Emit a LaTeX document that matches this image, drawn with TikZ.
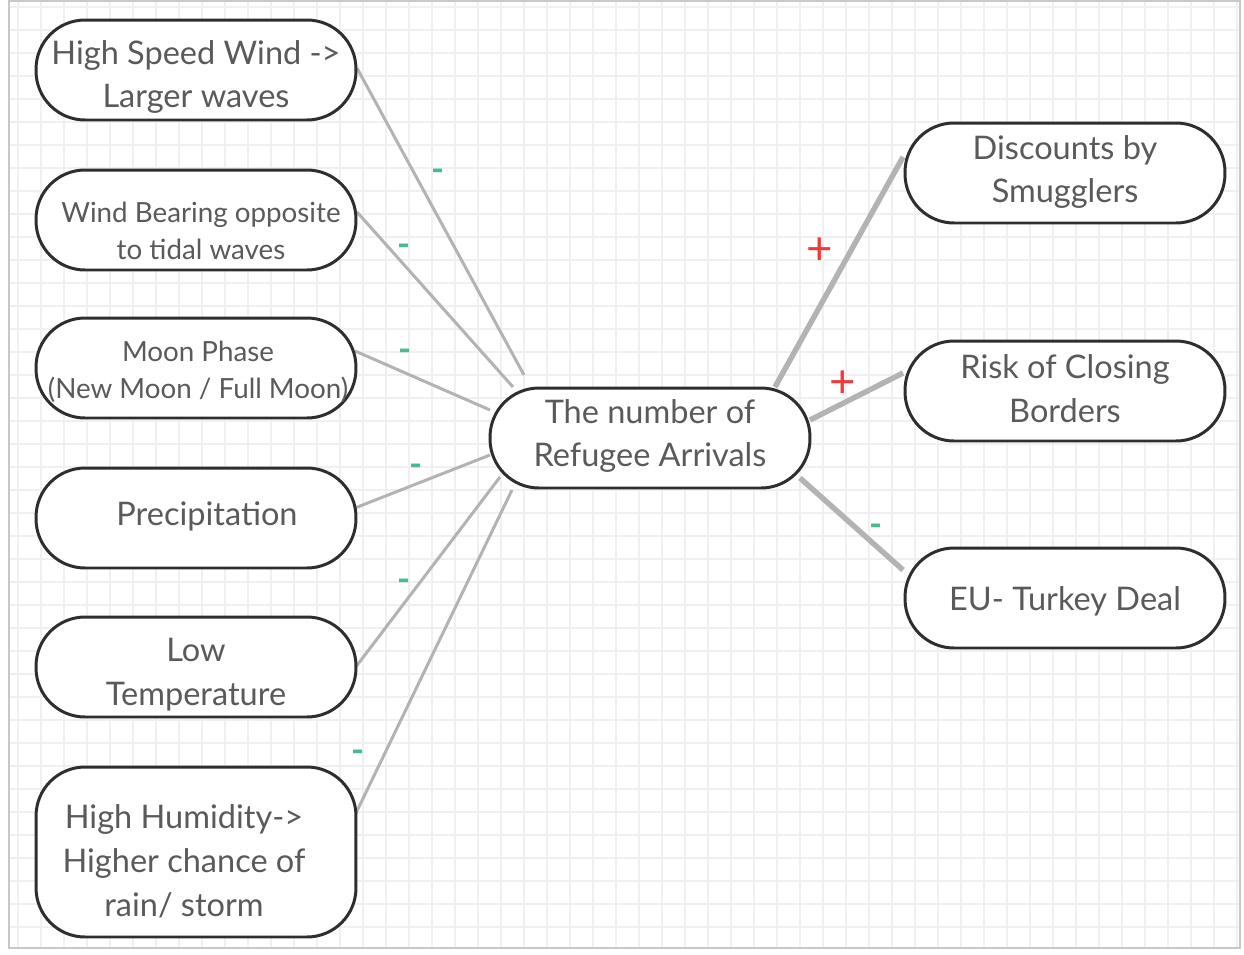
\documentclass[tikz,border=0pt]{standalone}
\usepackage{fontspec}
\setmainfont{Lato}
\definecolor{boxc}{HTML}{2E2E2E}
\definecolor{txtc}{HTML}{5A5A5A}
\definecolor{edgec}{HTML}{B3B3B3}
\definecolor{gridc}{HTML}{F0F0F0}
\definecolor{framec}{HTML}{C8C8C8}
\definecolor{minusc}{HTML}{45BC8C}
\definecolor{plusc}{HTML}{F03A3A}
\pgfdeclarelayer{gridlayer}
\pgfdeclarelayer{edgelayer}
\pgfsetlayers{gridlayer,edgelayer,main}
\begin{document}
\begin{tikzpicture}[x=0.02cm,y=-0.02cm,
  box/.style={draw=boxc, line width=1.7pt, fill=white, rounded corners=0.98cm,
    minimum width=6.4cm, minimum height=2cm, inner sep=0pt},
  tallbox/.style={box, minimum height=3.4cm},
  txt/.style={text=txtc, align=center, inner sep=0pt},
  fbig/.style={font=\fontsize{18.5}{24.9}\selectfont},
  fmid/.style={font=\fontsize{15.8}{21}\selectfont},
  edgeL/.style={draw=edgec, line width=1.7pt},
  edgeR/.style={draw=edgec, line width=3.1pt},
  minus/.style={text=minusc, inner sep=0pt, yshift=-0.11cm, font=\fontsize{20}{20}\selectfont\bfseries},
  plus/.style={text=plusc, inner sep=0pt, yshift=-0.05cm, font=\fontsize{26}{26}\selectfont}]
\useasboundingbox (0,0) rectangle (1244,954);
\begin{pgfonlayer}{gridlayer}
  \fill[white] (0,0) rectangle (1244,954);
  \foreach \gx in {18,41,...,1240} \draw[gridc, line width=0.85pt] (\gx,2) -- (\gx,947);
  \foreach \gy in {7,30,...,947} \draw[gridc, line width=0.85pt] (10,\gy) -- (1239,\gy);
  \draw[framec, line width=1.5pt] (9,1) rectangle (1240,948);
\end{pgfonlayer}

% boxes
\node[box] (b1) at (196,70) {};
\node[box] (b2) at (196,220) {};
\node[box] (b3) at (196,368) {};
\node[box] (b4) at (196,518) {};
\node[box] (b5) at (196,667) {};
\node[tallbox] (b6) at (196,852) {};
\node[box] (cen) at (650,438) {};
\node[box] (r1) at (1065,173) {};
\node[box] (r2) at (1065,391) {};
\node[box] (r3) at (1065,598) {};

% texts
\node[txt,fbig] (t1) at (196,77) {High Speed Wind ->\\Larger waves};
\node[txt,fmid] (t2) at (201,231) {Wind Bearing opposite\\to tidal waves};
\node[txt,fmid] (t3) at (198,372) {Moon Phase\\(New Moon / Full Moon)};
\node[txt,fbig] (t4) at (207,516) {Precipitation};
\node[txt,fbig] (t5) at (196,675) {Low\\Temperature};
\node[txt,fbig] (t6) at (184,861) {High Humidity->\\Higher chance of\\rain/ storm};
\node[txt,fbig] (tc) at (650,436) {The number of\\Refugee Arrivals};
\node[txt,fbig] (tr1) at (1065,172) {Discounts by\\Smugglers};
\node[txt,fbig] (tr2) at (1065,389) {Risk of Closing\\Borders};
\node[txt,fbig] (tr3) at (1065,601) {EU- Turkey Deal};

% edges
\begin{pgfonlayer}{edgelayer}
  \draw[edgeL] ([shift={(161,-2)}]b1.center) -- ([shift={(-126,-63)}]cen.center);
  \draw[edgeL] ([shift={(161,-8)}]b2.center) -- ([shift={(-137,-51)}]cen.center);
  \draw[edgeL] ([shift={(159,-17)}]b3.center) -- ([shift={(-160,-28)}]cen.center);
  \draw[edgeL] ([shift={(159,-10)}]b4.center) -- ([shift={(-160,17)}]cen.center);
  \draw[edgeL] ([shift={(159,1)}]b5.center) -- ([shift={(-150,39)}]cen.center);
  \draw[edgeL] ([shift={(160,-39)}]b6.center) -- ([shift={(-138,52)}]cen.center);
  \draw[edgeR] ([shift={(125,-51)}]cen.center) -- ([shift={(-162,-16)}]r1.center);
  \draw[edgeR] ([shift={(160,-18)}]cen.center) -- ([shift={(-162,-18)}]r2.center);
  \draw[edgeR] ([shift={(150,40)}]cen.center) -- ([shift={(-162,-28)}]r3.center);
\end{pgfonlayer}

% signs
\node[minus] (m1) at (438,170) {-};
\node[minus] (m2) at (404,245) {-};
\node[minus] (m3) at (405,350) {-};
\node[minus] (m4) at (416,465) {-};
\node[minus] (m5) at (404,580) {-};
\node[minus] (m6) at (358,751) {-};
\node[minus] (m7) at (876,525) {-};
\node[plus] (p1) at (820,249) {+};
\node[plus] (p2) at (843,382) {+};
\end{tikzpicture}
\end{document}
